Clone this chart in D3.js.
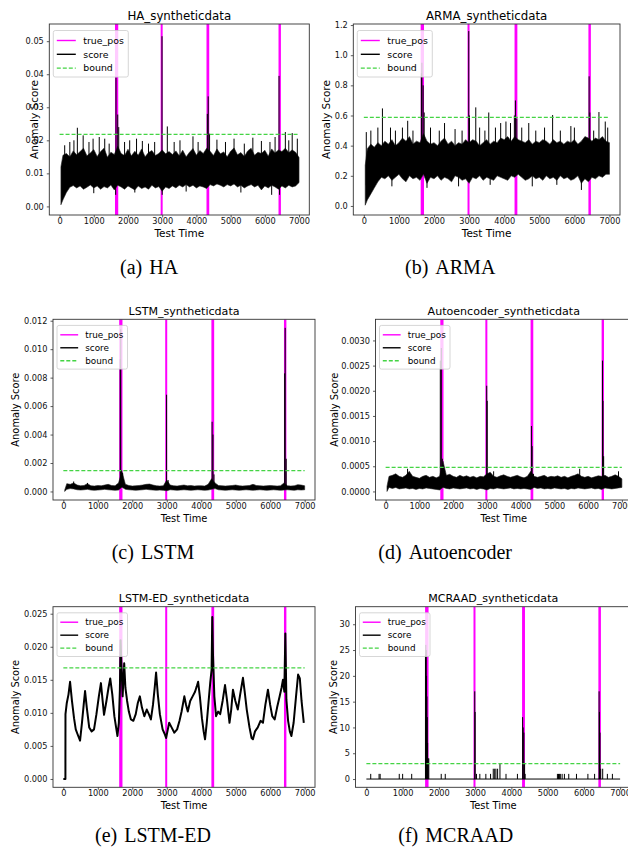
<!DOCTYPE html>
<html>
<head>
<meta charset="utf-8">
<script src="https://cdn.jsdelivr.net/npm/d3@7"></script>
<style>
body { margin: 0; background: #fff; }
svg { display: block; }
text { font-family: "DejaVu Sans", sans-serif; }
</style>
</head>
<body>
<script>
// ---- data ----
const xTicks = [0, 1000, 2000, 3000, 4000, 5000, 6000, 7000];
const timeSpan = [0, 7000];
// true anomaly windows (start / end of each magenta band)
const trueStart = [1620, 2955, 4295, 6400];
const trueEnd = [1715, 3010, 4375, 6470];
// time grid for the min/max envelope of the noisy scores
const gridT = [40].concat(d3.range(100, 7001, 100));

// HA
const haTicks = [0, 0.01, 0.02, 0.03, 0.04, 0.05];
const haBound = 0.0218;
const haHi = [0.012,0.0155,0.016,0.015,0.0168,0.0156,0.0166,0.0176,0.0153,0.0162,
  0.0172,0.0151,0.0166,0.0176,0.0149,0.0164,0.0157,0.0182,0.016,0.0154,
  0.0173,0.0153,0.0167,0.0155,0.0174,0.015,0.0163,0.0169,0.0154,0.016,
  0.0171,0.0159,0.0166,0.0157,0.0168,0.0153,0.017,0.015,0.0164,0.0175,
  0.0155,0.0169,0.016,0.0176,0.0167,0.0154,0.0174,0.0159,0.0165,0.015,
  0.0167,0.0177,0.0156,0.0163,0.0151,0.0168,0.0176,0.0155,0.0164,0.016,
  0.017,0.0152,0.0174,0.0162,0.0171,0.0166,0.0176,0.0163,0.0171,0.0164,0.0148];
const haLo = [0.0005,0.002,0.0042,0.0058,0.0063,0.0056,0.0062,0.0052,0.0058,0.0065,
  0.0056,0.0062,0.0052,0.006,0.0056,0.0065,0.005,0.0064,0.0059,0.0052,
  0.0062,0.0056,0.005,0.0062,0.0054,0.0059,0.0052,0.0064,0.0056,0.006,
  0.0046,0.0059,0.0054,0.0062,0.0056,0.0064,0.0059,0.0066,0.0059,0.0064,
  0.0056,0.0062,0.0059,0.0054,0.0066,0.0062,0.0068,0.0064,0.0059,0.0066,
  0.0062,0.0068,0.0059,0.0064,0.0056,0.0062,0.0066,0.0059,0.0064,0.005,
  0.0062,0.0056,0.0064,0.0059,0.0052,0.0062,0.0056,0.0064,0.0059,0.0062,0.0072];
const haSpikeT = [150,300,420,520,690,860,980,1000,1160,1320,1450,1640,1650,1700,1730,1900,2050,2200,2250,2420,
  2600,2780,2995,3000,3150,3350,3520,3700,3900,4050,4320,4345,4385,4600,4850,5100,5300,5400,5650,5900,
  6150,6200,6300,6415,6430,6600,6700,6800,6950];
const haSpikeV = [0.0185,0.0195,0.02,0.0238,0.0215,0.0195,0.0205,0.004,0.021,0.0205,0.019,0.0035,0.039,0.0278,0.024,0.0195,0.02,0.0042,0.0205,0.0198,
  0.019,0.0195,0.0515,0.0035,0.0242,0.0195,0.02,0.0045,0.0212,0.0195,0.028,0.0333,0.022,0.0202,0.0195,0.0205,0.0042,0.019,0.0208,0.0198,
  0.0195,0.0035,0.021,0.0395,0.0035,0.0225,0.02,0.0222,0.0205];

// ARMA
const armaTicks = [0, 0.2, 0.4, 0.6, 0.8, 1.0, 1.2];
const armaBound = 0.587;
const armaHi = [0.27,0.38,0.41,0.39,0.42,0.4,0.43,0.41,0.44,0.4,
  0.42,0.45,0.43,0.46,0.41,0.43,0.42,0.48,0.43,0.41,
  0.42,0.4,0.43,0.45,0.41,0.43,0.4,0.42,0.41,0.44,
  0.42,0.44,0.43,0.4,0.42,0.44,0.41,0.43,0.42,0.45,
  0.44,0.46,0.43,0.46,0.44,0.43,0.42,0.44,0.41,0.43,
  0.42,0.44,0.43,0.41,0.44,0.42,0.43,0.41,0.43,0.42,
  0.44,0.41,0.43,0.46,0.45,0.43,0.45,0.44,0.46,0.43,0.42];
const armaLo = [0.005,0.04,0.08,0.12,0.16,0.19,0.18,0.2,0.17,0.19,
  0.21,0.18,0.16,0.2,0.18,0.19,0.17,0.21,0.15,0.19,
  0.18,0.2,0.17,0.19,0.18,0.16,0.2,0.19,0.17,0.18,
  0.15,0.19,0.18,0.2,0.17,0.19,0.18,0.17,0.2,0.19,
  0.18,0.17,0.2,0.19,0.21,0.19,0.17,0.18,0.2,0.18,
  0.19,0.17,0.2,0.18,0.19,0.17,0.2,0.18,0.19,0.17,
  0.18,0.2,0.15,0.18,0.16,0.19,0.18,0.2,0.19,0.21,0.21];
const armaSpikeT = [70,200,400,530,760,800,900,1100,1250,1400,1640,1655,1690,1720,1800,1900,2150,2300,2600,2700,
  2800,2990,3010,3190,3300,3450,3560,3600,3750,3900,4050,4180,4290,4320,4360,4500,4700,4800,4900,5150,
  5380,5500,5600,5900,6000,6200,6420,6440,6550,6700,6880,6950];
const armaSpikeV = [0.49,0.5,0.52,0.647,0.52,0.13,0.5,0.52,0.565,0.5,0.88,0.95,0.8,0.62,0.12,0.52,0.5,0.55,0.51,0.13,
  0.5,1.16,0.6,0.654,0.52,0.5,0.62,0.14,0.52,0.55,0.56,0.55,0.6,0.7,0.58,0.52,0.55,0.13,0.5,0.52,
  0.603,0.14,0.5,0.53,0.52,0.106,0.86,0.62,0.5,0.623,0.56,0.52];

// LSTM
const lstmTicks = [0, 0.002, 0.004, 0.006, 0.008, 0.010, 0.012];
const lstmBound = 0.00147;
const lstmHi = [0.0001,0.00055,0.0005,0.0006,0.00045,0.0004,0.00042,0.00055,0.0004,0.00038,
  0.00042,0.0004,0.00045,0.0005,0.00042,0.0004,0.0006,0.0014,0.0005,0.00042,
  0.00038,0.0004,0.00042,0.00045,0.0005,0.00052,0.00045,0.0004,0.00038,0.0004,
  0.0008,0.00045,0.0004,0.00038,0.00042,0.00045,0.0004,0.00042,0.00038,0.0004,
  0.0004,0.00038,0.0005,0.0009,0.0006,0.00042,0.0004,0.00038,0.0004,0.00042,
  0.00045,0.0004,0.00038,0.0004,0.00042,0.0005,0.00042,0.0004,0.00038,0.0004,
  0.00042,0.0004,0.00038,0.0004,0.0006,0.0004,0.00038,0.0004,0.00048,0.00045,0.0004];
const lstmLo = [0,0.00015,0.0002,0.00018,0.00012,0.0001,0.00012,0.00015,0.0001,0.00008,
  0.0001,0.00012,0.00015,0.00012,0.0001,0.00008,0.0001,0.0003,0.00015,0.00012,
  0.0001,0.00008,0.0001,0.00012,0.00015,0.00012,0.0001,0.00008,0.0001,0.00008,
  0.00005,0.00012,0.0001,0.00008,0.0001,0.00012,0.0001,0.00008,0.0001,0.00012,
  0.0001,0.00008,0.0001,0.00015,0.0002,0.00012,0.0001,0.00008,0.0001,0.00012,
  0.0001,0.00008,0.0001,0.00012,0.0001,0.00008,0.0001,0.00012,0.0001,0.00008,
  0.0001,0.00012,0.0001,0.00008,0.0001,0.00012,0.0001,0.00008,0.00012,0.0001,0.00012];
const lstmSpikeT = [300,700,1650,1665,1690,1720,2995,3040,4315,4340,4370,6420,6435,6465];
const lstmSpikeV = [0.0007,0.0006,0.0093,0.0114,0.0015,0.0013,0.0068,0.0008,0.0049,0.004,0.0012,0.0083,0.0115,0.0023];

// Autoencoder
const aeTicks = [0, 0.0005, 0.001, 0.0015, 0.002, 0.0025, 0.003];
const aeBound = 0.000477;
const aeHi = [0.0001,0.0003,0.00032,0.00035,0.0003,0.00028,0.00032,0.0004,0.0003,0.00028,
  0.00026,0.0003,0.00032,0.00028,0.0003,0.00027,0.0003,0.0006,0.00032,0.00034,
  0.0003,0.00028,0.00032,0.00029,0.00031,0.00028,0.0003,0.00027,0.0003,0.00029,
  0.00035,0.00038,0.0003,0.00028,0.00031,0.00033,0.0003,0.00028,0.0003,0.00032,
  0.00029,0.00027,0.0003,0.0004,0.0003,0.00028,0.0003,0.00032,0.00028,0.0003,
  0.00029,0.00031,0.00028,0.0003,0.00027,0.0003,0.00032,0.00035,0.0003,0.00028,
  0.0003,0.00027,0.00029,0.00031,0.0003,0.00032,0.00028,0.0003,0.00033,0.0003,0.00025];
const aeLo = [0,0.00008,0.00006,0.00008,0.00005,0.00006,0.00007,0.00005,0.00006,0.00004,
  0.00006,0.00005,0.00007,0.00006,0.00005,0.00004,0.00003,0.00008,0.00006,0.00005,
  0.00007,0.00006,0.00005,0.00006,0.00007,0.00005,0.00006,0.00004,0.00006,0.00005,
  0.00003,0.00006,0.00005,0.00007,0.00006,0.00005,0.00006,0.00007,0.00005,0.00006,
  0.00005,0.00006,0.00005,0.00004,0.00008,0.00006,0.00007,0.00005,0.00006,0.00005,
  0.00007,0.00006,0.00005,0.00006,0.00004,0.00006,0.00005,0.00007,0.00006,0.00005,
  0.00006,0.00007,0.00005,0.00006,0.00004,0.00007,0.00006,0.00005,0.00006,0.00007,0.00008];
const aeSpikeT = [650,1620,1650,1680,2995,3010,3200,4320,4340,4380,5750,6425,6440,6460,6900];
const aeSpikeV = [0.00045,0.0026,0.00285,0.00065,0.0021,0.0018,0.0004,0.0013,0.0009,0.00035,0.00045,0.0026,0.0018,0.0007,0.0004];

// LSTM-ED
const ledTicks = [0, 0.005, 0.01, 0.015, 0.02, 0.025];
const ledBound = 0.0168;
const ledTime = [0,60,62,100,150,195,250,310,360,410,
  485,540,590,630,680,750,820,890,960,1030,
  1090,1140,1180,1250,1310,1360,1420,1480,1530,1570,
  1610,1640,1660,1690,1720,1765,1800,1850,1900,1960,
  2030,2100,2160,2220,2280,2350,2420,2480,2540,2600,
  2650,2690,2740,2800,2880,2940,2980,3020,3070,3140,
  3220,3300,3370,3430,3510,3560,3610,3680,3750,3820,
  3870,3910,3960,4020,4070,4110,4160,4210,4260,4300,
  4320,4340,4380,4430,4490,4550,4620,4690,4750,4820,
  4870,4920,4990,5060,5130,5210,5260,5320,5400,5460,
  5500,5560,5640,5720,5790,5860,5935,6000,6060,6130,
  6200,6275,6330,6370,6410,6440,6470,6520,6570,6615,
  6680,6750,6810,6860,6910,6975];
const ledScore = [0,0,0.0098,0.0115,0.0128,0.0147,0.0118,0.0092,0.0075,0.0068,
  0.0058,0.0085,0.0112,0.0133,0.0108,0.0078,0.0072,0.0075,0.0098,0.0125,
  0.0145,0.0118,0.0097,0.0118,0.0138,0.0152,0.0128,0.0095,0.0078,0.0065,
  0.0085,0.0135,0.021,0.0165,0.0125,0.0175,0.0138,0.0118,0.0102,0.009,
  0.0088,0.0098,0.0115,0.0125,0.0108,0.0095,0.0105,0.0098,0.009,0.0112,
  0.0138,0.0161,0.0128,0.0098,0.0075,0.0068,0.0062,0.0072,0.0085,0.0078,
  0.007,0.0075,0.0088,0.0102,0.0125,0.0112,0.0102,0.0118,0.0125,0.0132,
  0.014,0.0147,0.0125,0.0092,0.0072,0.006,0.0085,0.0115,0.0145,0.0165,
  0.0245,0.019,0.0125,0.0095,0.0102,0.0098,0.0118,0.0142,0.0118,0.0085,
  0.0105,0.0135,0.0118,0.0105,0.0128,0.0153,0.0132,0.0105,0.0078,0.0062,
  0.006,0.0072,0.0078,0.0088,0.0085,0.0112,0.0135,0.0112,0.0095,0.009,
  0.0108,0.0125,0.0138,0.015,0.0132,0.022,0.012,0.0088,0.0072,0.0065,
  0.0085,0.0125,0.0158,0.0152,0.0118,0.0085];

// MCRAAD
const mcTicks = [0, 5, 10, 15, 20, 25, 30];
const mcBound = 2.97;
const mcSpikeT = [120,350,380,907,1000,1250,1722,2065,2176,3037,3130,3296,3426,3500,3540,3574,3620,3685,3852,4167,4380,5270,5300,5330,5350,5400,5463,5583,5796,6111,6296,6519,6648,6787];
const mcSpikeV = [1,1,1,1,1,1,4,1,1,1,1,1,1,2,2,2,2,3,1,1,1,1,1,1,1,1,1,1,1,1,1,2,1,1];
const mcAnomT = [1630,1640,1650,1660,1670,1680,1690,1705,2990,3000,4310,4325,4345,4365,6420,6430,6445,6465];
const mcAnomV = [24,26,25,20,16,12,7,4,17,13,12,10,9,3,17,13,9,2];

const legendNames = ['true_pos', 'score', 'bound'];

// ---- layout ----
const magenta = '#ff00ff';
const green = '#44d444';
const xDom = [-300, 7300];

const panels = [
  {title: 'HA_syntheticdata', cap: ['(a)', 'HA'], capX: 120, capY: 274,
   l: 49.3, r: 309.3, t: 24, b: 215, yDom: [-0.0026, 0.0552], ticks: haTicks, fmt: '.2f', ylab: 15.5, s: 1,
   hi: haHi, lo: haLo, spT: haSpikeT, spV: haSpikeV, bound: haBound},
  {title: 'ARMA_syntheticdata', cap: ['(b)', 'ARMA'], capX: 405, capY: 274,
   l: 353.3, r: 620, t: 24, b: 215, yDom: [-0.06, 1.207], ticks: armaTicks, fmt: '.1f', ylab: 27, s: 1,
   hi: armaHi, lo: armaLo, spT: armaSpikeT, spV: armaSpikeV, bound: armaBound},
  {title: 'LSTM_syntheticdata', cap: ['(c)', 'LSTM'], capX: 111.7, capY: 559,
   l: 53, r: 315, t: 319.3, b: 500, yDom: [-0.0006, 0.0121], ticks: lstmTicks, fmt: '.3f', ylab: 37.5, s: 0.94,
   hi: lstmHi, lo: lstmLo, spT: lstmSpikeT, spV: lstmSpikeV, bound: lstmBound},
  {title: 'Autoencoder_syntheticdata', cap: ['(d)', 'Autoencoder'], capX: 378.3, capY: 559,
   l: 375.5, r: 632, t: 319.3, b: 500, yDom: [-0.00017, 0.00342], ticks: aeTicks, fmt: '.4f', ylab: 41.5, s: 0.94,
   hi: aeHi, lo: aeLo, spT: aeSpikeT, spV: aeSpikeV, bound: aeBound},
  {title: 'LSTM-ED_syntheticdata', cap: ['(e)', 'LSTM-ED'], capX: 95, capY: 842,
   l: 53, r: 315, t: 606.7, b: 787.3, yDom: [-0.00126, 0.02606], ticks: ledTicks, fmt: '.3f', ylab: 37.5, s: 0.94,
   lineT: ledTime, lineV: ledScore, bound: ledBound},
  {title: 'MCRAAD_syntheticdata', cap: ['(f)', 'MCRAAD'], capX: 398.3, capY: 842,
   l: 355.5, r: 631, t: 606.7, b: 787.3, yDom: [-1.6, 33.4], ticks: mcTicks, fmt: 'd', ylab: 22.5, s: 0.94,
   flat: true, spT: mcSpikeT.concat(mcAnomT), spV: mcSpikeV.concat(mcAnomV), bound: mcBound}
];

const svg = d3.select('body').append('svg')
  .attr('width', 628)
  .attr('height', 850);

panels.forEach((p, i) => {
  const x = d3.scaleLinear().domain(xDom).range([p.l, p.r]);
  const y = d3.scaleLinear().domain(p.yDom).range([p.b, p.t]);
  const g = svg.append('g');

  svg.append('clipPath').attr('id', 'clip' + i)
    .append('rect')
    .attr('x', p.l).attr('y', p.t)
    .attr('width', p.r - p.l).attr('height', p.b - p.t);
  const plot = g.append('g').attr('clip-path', `url(#clip${i})`);

  // true_pos bands
  plot.selectAll('rect.tp').data(d3.zip(trueStart, trueEnd)).join('rect')
    .attr('class', 'tp')
    .attr('x', d => x(d[0]))
    .attr('width', d => Math.max(x(d[1]) - x(d[0]), 2))
    .attr('y', p.t).attr('height', p.b - p.t)
    .attr('fill', magenta);

  // score
  if (p.hi) {
    const pts = gridT.map((t, k) => ({t: t, lo: p.lo[k], hi: p.hi[k]}))
      .filter(d => d.lo !== undefined && d.hi !== undefined);
    plot.append('path').datum(pts)
      .attr('d', d3.area().x(d => x(d.t)).y0(d => y(d.lo)).y1(d => y(d.hi)))
      .attr('fill', '#000').attr('stroke', '#222').attr('stroke-width', 0.6);
  }
  if (p.lineT) {
    plot.append('path').datum(d3.zip(p.lineT, p.lineV))
      .attr('d', d3.line().x(d => x(d[0])).y(d => y(d[1])))
      .attr('fill', 'none').attr('stroke', '#000').attr('stroke-width', 2)
      .attr('stroke-linejoin', 'round');
  }
  if (p.flat) {
    plot.append('line')
      .attr('x1', x(timeSpan[0])).attr('x2', x(timeSpan[1]))
      .attr('y1', y(0)).attr('y2', y(0))
      .attr('stroke', '#000').attr('stroke-width', 1);
  }
  if (p.spT) {
    const baseOf = t => {
      if (p.flat) return 0;
      const k = d3.minIndex(gridT, g0 => Math.abs(g0 - t));
      return (p.lo[k] + p.hi[k]) / 2;
    };
    plot.selectAll('line.sp').data(d3.zip(p.spT, p.spV)).join('line')
      .attr('class', 'sp')
      .attr('x1', d => x(d[0])).attr('x2', d => x(d[0]))
      .attr('y1', d => y(baseOf(d[0]))).attr('y2', d => y(d[1]))
      .attr('stroke', '#000').attr('stroke-width', 1);
  }

  // bound
  plot.append('line')
    .attr('x1', x(timeSpan[0])).attr('x2', x(timeSpan[1]))
    .attr('y1', y(p.bound)).attr('y2', y(p.bound))
    .attr('stroke', green).attr('stroke-width', 1.2)
    .attr('stroke-dasharray', '4,2');

  // axes
  const xa = g.append('g').attr('transform', `translate(0,${p.b})`)
    .call(d3.axisBottom(x).tickValues(xTicks).tickFormat(d3.format('d')).tickSize(2.5).tickSizeOuter(0).tickPadding(0.4));
  const ya = g.append('g').attr('transform', `translate(${p.l},0)`)
    .call(d3.axisLeft(y).tickValues(p.ticks).tickFormat(d3.format(p.fmt)).tickSize(2.5).tickSizeOuter(0).tickPadding(3));
  [xa, ya].forEach(a => {
    a.select('.domain').remove();
    a.selectAll('line').attr('stroke', '#333').attr('stroke-width', 0.8);
    a.selectAll('text').attr('fill', '#111').style('font-size', '8.2px')
      .style('font-family', '"DejaVu Sans", sans-serif');
  });

  g.append('rect')
    .attr('x', p.l).attr('y', p.t)
    .attr('width', p.r - p.l).attr('height', p.b - p.t)
    .attr('fill', 'none').attr('stroke', '#333').attr('stroke-width', 0.9);

  // title and axis labels
  g.append('text')
    .attr('x', (p.l + p.r) / 2).attr('y', p.t - 4.5)
    .attr('text-anchor', 'middle')
    .style('font-size', (11.8 * p.s) + 'px')
    .text(p.title);
  g.append('text')
    .attr('x', (p.l + p.r) / 2).attr('y', p.b + 21.5)
    .attr('text-anchor', 'middle')
    .style('font-size', (10.5 * p.s) + 'px')
    .text('Test Time');
  g.append('text')
    .attr('transform', `translate(${p.l - p.ylab},${(p.t + p.b) / 2}) rotate(-90)`)
    .attr('text-anchor', 'middle')
    .attr('dominant-baseline', 'central')
    .style('font-size', (10.5 * p.s) + 'px')
    .text('Anomaly Score');

  // legend
  const s = p.s;
  const lg = g.append('g').attr('transform', `translate(${p.l + 4},${p.t + 6.5 * s})`);
  lg.append('rect')
    .attr('width', 75 * s).attr('height', 46.5 * s).attr('rx', 2)
    .attr('fill', '#fff').attr('fill-opacity', 0.8)
    .attr('stroke', '#cccccc').attr('stroke-width', 0.8);
  const rowY = [10, 23.8, 37.6];
  const rowCol = [magenta, '#000', green];
  legendNames.forEach((name, k) => {
    lg.append('line')
      .attr('x1', 3.5 * s).attr('x2', 22.5 * s)
      .attr('y1', rowY[k] * s).attr('y2', rowY[k] * s)
      .attr('stroke', rowCol[k]).attr('stroke-width', 1.4)
      .attr('stroke-dasharray', k === 2 ? '4,2' : null);
    lg.append('text')
      .attr('x', 30 * s).attr('y', rowY[k] * s)
      .attr('dy', '0.35em')
      .style('font-size', (9.4 * s) + 'px')
      .text(name);
  });

  // sub caption
  const cap = svg.append('text')
    .attr('x', p.capX).attr('y', p.capY)
    .style('font-family', '"Liberation Serif", "Times New Roman", serif')
    .style('font-size', '20px')
    .text(p.cap[0]);
  cap.append('tspan').attr('dx', 7).text(p.cap[1]);
});
</script>
</body>
</html>
